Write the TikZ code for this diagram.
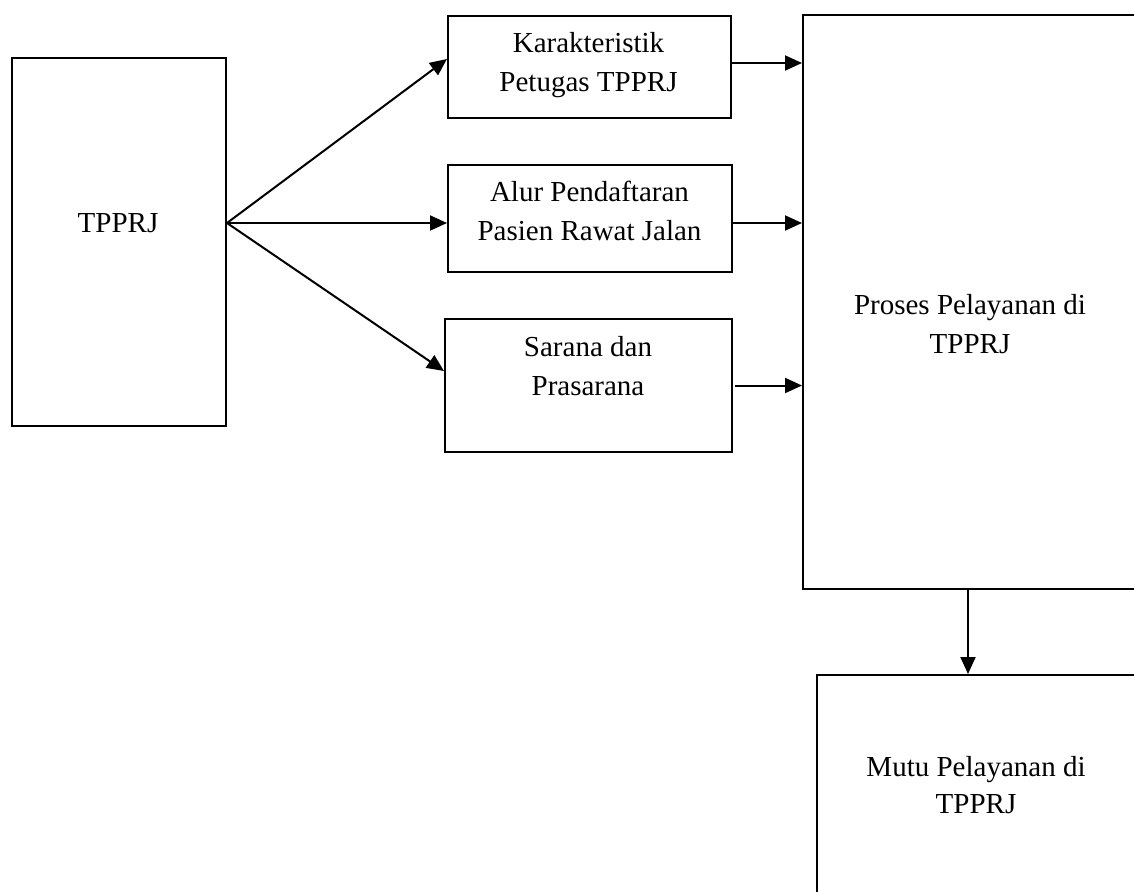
\documentclass[tikz,border=0pt]{standalone}
\usepackage{fontspec}
\setmainfont{Liberation Serif}
\usetikzlibrary{arrows.meta}
\begin{document}
\begin{tikzpicture}[x=1pt,y=-1pt,
  box/.style={draw, line width=2pt, inner sep=0pt, anchor=north west},
  lbl/.style={align=center, anchor=base, inner sep=0pt,
    font=\fontsize{29pt}{39pt}\selectfont},
  arr/.style={line width=2pt, -{Triangle[length=17pt,width=15pt]}}]
\useasboundingbox (0,0) rectangle (1134,891);

% boxes
\node[box, minimum width=214pt, minimum height=368pt] (tp) at (11,57) {};
\node[box, minimum width=283pt, minimum height=102pt] (kar) at (447,15) {};
\node[box, minimum width=284pt, minimum height=107pt] (alur) at (447,164) {};
\node[box, minimum width=287pt, minimum height=133pt] (sar) at (444,318) {};
\node[box, minimum width=334pt, minimum height=574pt] (pros) at (802,14) {};
\node[box, minimum width=320pt, minimum height=232pt] (mutu) at (816,674) {};

% labels (base anchor sits on the last line)
\node[lbl] (tpL) at (118,232) {TPPRJ};
\node[lbl] (karL) at (588.5,91) {Karakteristik\\Petugas TPPRJ};
\node[lbl] (alurL) at (589.5,240) {Alur Pendaftaran\\Pasien Rawat Jalan};
\node[lbl] (sarL) at (588,395) {Sarana dan\\Prasarana};
\node[lbl] (prosL) at (970,353) {Proses Pelayanan di\\TPPRJ};
\node[lbl, font=\fontsize{29pt}{37pt}\selectfont] (mutuL) at (976,813) {Mutu Pelayanan di\\TPPRJ};

% connector end points
\coordinate (src) at ([yshift=19pt]tp.east);
\coordinate (karOut) at ([yshift=4pt]kar.east);
\coordinate (alurOut) at ([yshift=-4.5pt]alur.east);
\coordinate (sarOut) at ([xshift=2pt]sar.east);
\coordinate (prosOut) at ([xshift=-2pt]pros.south);

% connectors
\draw[arr] (src) -- ([yshift=8pt]kar.west);
\draw[arr] (src) -- (alur.west |- src);
\draw[arr] (src) -- ([yshift=14.5pt]sar.west);
\draw[arr] (karOut) -- (pros.west |- karOut);
\draw[arr] (alurOut) -- (pros.west |- alurOut);
\draw[arr] (sarOut) -- (pros.west |- sarOut);
\draw[arr] (prosOut) -- (prosOut |- mutu.north);
\end{tikzpicture}
\end{document}
